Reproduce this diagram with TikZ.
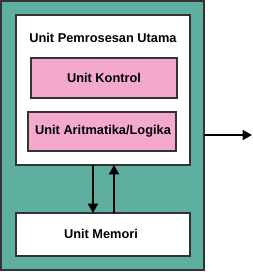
\documentclass[tikz,border=0pt]{standalone}
\usepackage{fontspec}
\setmainfont{Liberation Sans}
\usetikzlibrary{arrows.meta}
\definecolor{tealbg}{HTML}{5FAFA0}
\definecolor{pinkbox}{HTML}{F4A8CC}
\begin{document}
\begin{tikzpicture}[x=0.75pt,y=-0.75pt,
  box/.style={draw=black!80,line width=0.9pt},
  lbl/.style={font=\bfseries\fontsize{9.6}{11}\selectfont},
  arr/.style={-{Triangle[length=7pt,width=7.5pt]},line width=1.2pt}]
\useasboundingbox (0,0) rectangle (253,272);
\path[box,fill=tealbg] (1,1) rectangle (204,270);
\path[box,fill=white] (16,15) rectangle (190,165);
\node[lbl] (title) at (103,38) {Unit Pemrosesan Utama};
\path[box,fill=pinkbox] (31,58) rectangle (177,98);
\node[lbl] (cu) at (104,78) {Unit Kontrol};
\path[box,fill=pinkbox] (28,112) rectangle (176,151);
\node[lbl] (alu) at (103,131) {Unit Aritmatika/Logika};
\path[box,fill=white] (16,213) rectangle (190,256);
\node[lbl] (mem) at (101,234) {Unit Memori};
\coordinate (d1) at (93,165);
\coordinate (d2) at (93,213);
\coordinate (u1) at (114,213);
\coordinate (u2) at (114,165);
\draw[arr] (d1) -- (d2);
\draw[arr] (u1) -- (u2);
\coordinate (o1) at (204,135);
\coordinate (o2) at (252,135);
\draw[arr] (o1) -- (o2);
\end{tikzpicture}
\end{document}
